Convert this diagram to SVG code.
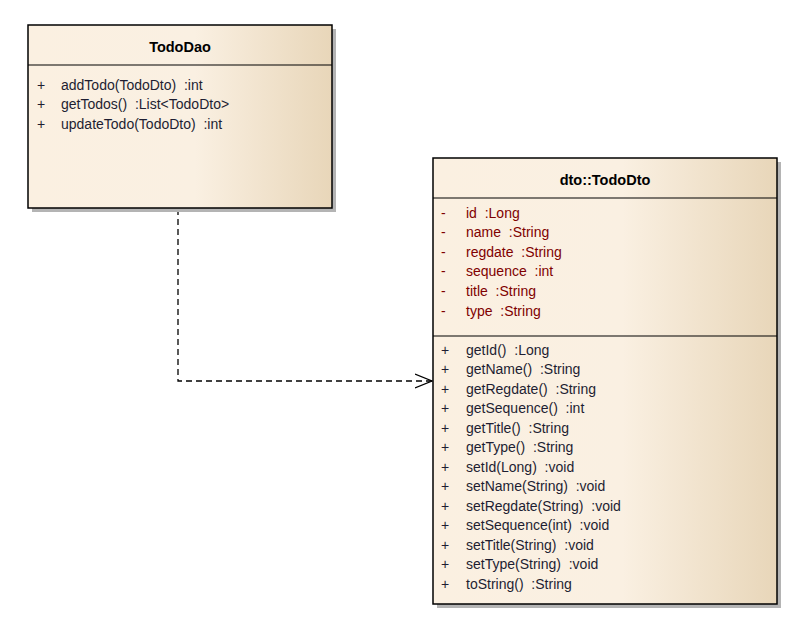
<svg xmlns="http://www.w3.org/2000/svg" width="802" height="635" viewBox="0 0 802 635">
<defs>
<linearGradient id="g" x1="0" y1="0" x2="1" y2="0">
<stop offset="0" stop-color="#FBF0E1"/>
<stop offset="0.55" stop-color="#FAF0E2"/>
<stop offset="1" stop-color="#E8D6B9"/>
</linearGradient>
<marker id="open" markerWidth="20" markerHeight="20" refX="17" refY="8" orient="auto" markerUnits="userSpaceOnUse">
<path d="M0,1 L17,8 L0,15" fill="none" stroke="#000" stroke-width="1.3"/>
</marker>
<style>
.shadow{fill:#B4B4B4}
.box{fill:url(#g);stroke:#000;stroke-width:1.5}
.sep{stroke:#000;stroke-width:1.2}
.title{font-family:"Liberation Sans",Arial,sans-serif;font-size:14.5px;font-weight:bold;fill:#000;text-anchor:middle}
.t{font-family:"Liberation Sans",Arial,sans-serif;font-size:14px}
.attr{fill:#800000}
.op{fill:#1E1E32}
.conn{fill:none;stroke:#000;stroke-width:1.3;stroke-dasharray:6,4}
</style>
</defs>
<rect width="802" height="635" fill="#fff"/>
<g id="connectors">
<path class="conn" d="M178,209 L178,381 L432,381" marker-end="url(#open)"/>
</g>
<g id="TodoDao">
<rect class="shadow" x="32" y="29" width="304" height="183"/>
<rect class="box" x="28" y="25" width="304" height="183"/>
<line class="sep" x1="28" y1="65" x2="332" y2="65"/>
<text class="title" x="180" y="52">TodoDao</text>
<g class="t op">
<text x="37" y="90">+</text><text x="61" y="90">addTodo(TodoDto)&#160; :int</text>
<text x="37" y="109">+</text><text x="61" y="109">getTodos()&#160; :List&lt;TodoDto&gt;</text>
<text x="37" y="129">+</text><text x="61" y="129">updateTodo(TodoDto)&#160; :int</text>
</g>
</g>
<g id="TodoDto">
<rect class="shadow" x="437" y="162" width="344" height="446"/>
<rect class="box" x="433" y="158" width="344" height="446"/>
<line class="sep" x1="433" y1="198" x2="777" y2="198"/>
<line class="sep" x1="433" y1="336" x2="777" y2="336"/>
<text class="title" x="605" y="185">dto::TodoDto</text>
<g class="t attr">
<text x="441" y="218">-</text><text x="466" y="218">id&#160; :Long</text>
<text x="441" y="237">-</text><text x="466" y="237">name&#160; :String</text>
<text x="441" y="257">-</text><text x="466" y="257">regdate&#160; :String</text>
<text x="441" y="276">-</text><text x="466" y="276">sequence&#160; :int</text>
<text x="441" y="296">-</text><text x="466" y="296">title&#160; :String</text>
<text x="441" y="316">-</text><text x="466" y="316">type&#160; :String</text>
</g>
<g class="t op">
<text x="441" y="355">+</text><text x="466" y="355">getId()&#160; :Long</text>
<text x="441" y="374">+</text><text x="466" y="374">getName()&#160; :String</text>
<text x="441" y="394">+</text><text x="466" y="394">getRegdate()&#160; :String</text>
<text x="441" y="413">+</text><text x="466" y="413">getSequence()&#160; :int</text>
<text x="441" y="433">+</text><text x="466" y="433">getTitle()&#160; :String</text>
<text x="441" y="452">+</text><text x="466" y="452">getType()&#160; :String</text>
<text x="441" y="472">+</text><text x="466" y="472">setId(Long)&#160; :void</text>
<text x="441" y="491">+</text><text x="466" y="491">setName(String)&#160; :void</text>
<text x="441" y="511">+</text><text x="466" y="511">setRegdate(String)&#160; :void</text>
<text x="441" y="530">+</text><text x="466" y="530">setSequence(int)&#160; :void</text>
<text x="441" y="550">+</text><text x="466" y="550">setTitle(String)&#160; :void</text>
<text x="441" y="569">+</text><text x="466" y="569">setType(String)&#160; :void</text>
<text x="441" y="589">+</text><text x="466" y="589">toString()&#160; :String</text>
</g>
</g>
</svg>
